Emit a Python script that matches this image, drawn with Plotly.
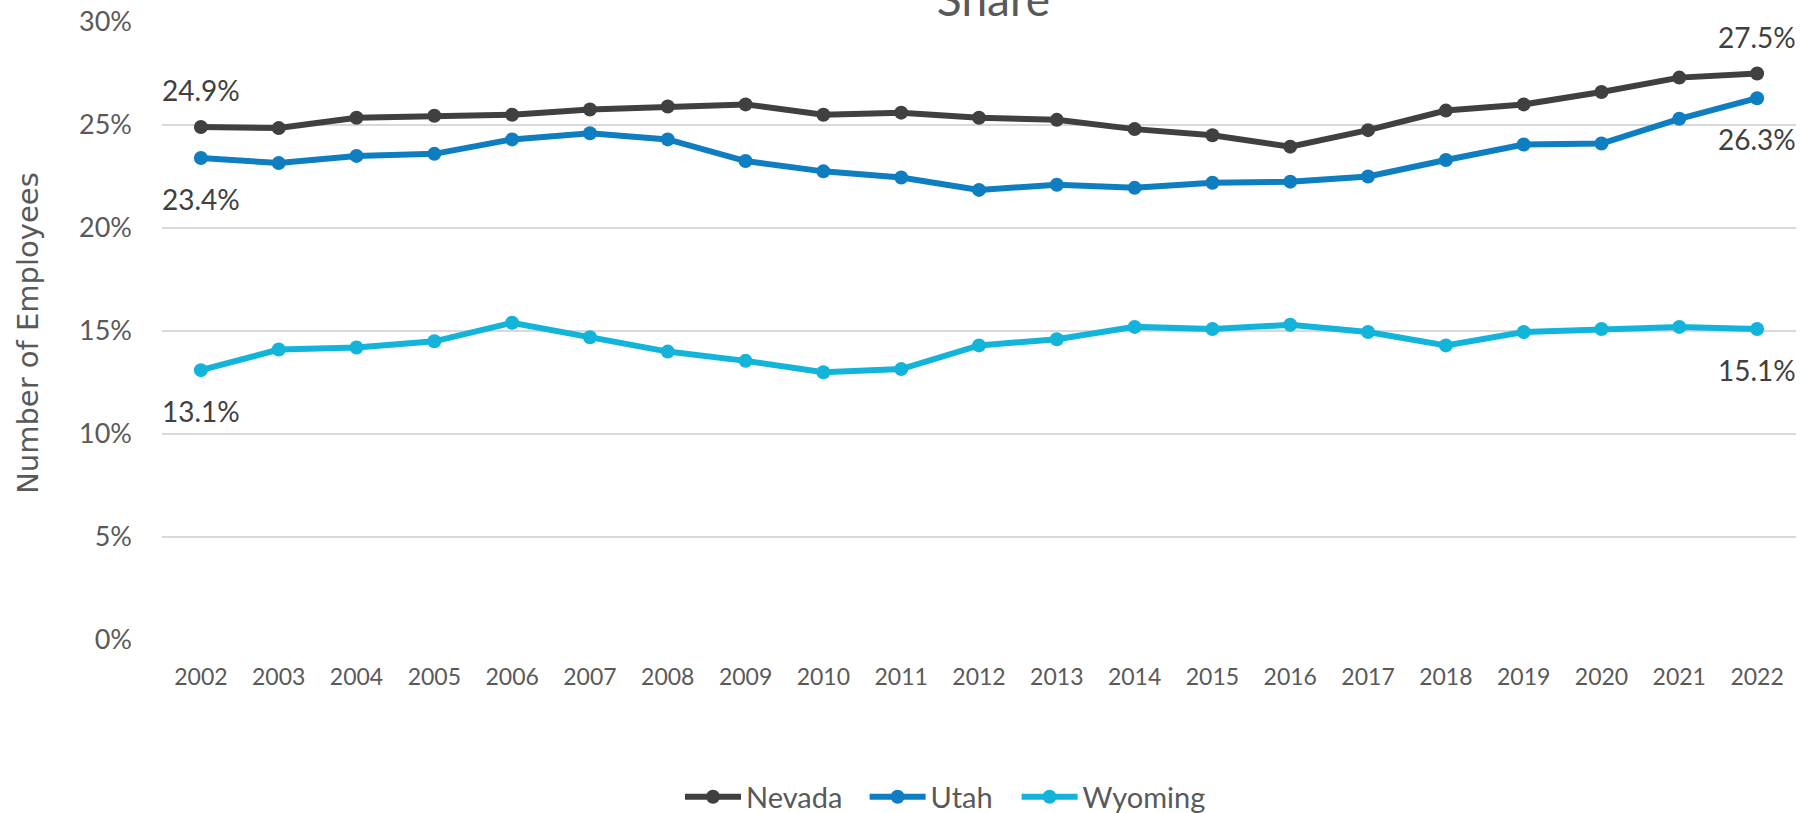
import plotly.graph_objects as go

years = [str(y) for y in range(2002, 2023)]
nevada = [24.9, 24.85, 25.35, 25.45, 25.5, 25.75, 25.9, 26.0, 25.5, 25.6, 25.35,
          25.25, 24.8, 24.5, 23.95, 24.75, 25.7, 26.0, 26.6, 27.3, 27.5]
utah = [23.4, 23.15, 23.5, 23.6, 24.3, 24.6, 24.3, 23.25, 22.75, 22.45, 21.85,
        22.1, 21.95, 22.2, 22.25, 22.5, 23.3, 24.05, 24.1, 25.3, 26.3]
wyoming = [13.1, 14.1, 14.2, 14.5, 15.4, 14.7, 14.0, 13.55, 13.0, 13.15, 14.3,
           14.6, 15.2, 15.1, 15.3, 14.95, 14.3, 14.95, 15.1, 15.2, 15.1]
y_ticks = [0, 5, 10, 15, 20, 25, 30]
y_tick_labels = ["0%", "5%", "10%", "15%", "20%", "25%", "30%"]

series = [
    ("Nevada", nevada, "#404040", 37, "legend", 0.317),
    ("Utah", utah, "#0E7EC1", -41, "legend2", 0.430),
    ("Wyoming", wyoming, "#12B4DA", -41, "legend3", 0.523),
]

FONT = "Lato"
fig = go.Figure()
annotations = []
legends = {}
for name, vals, color, shift, leg, lx in series:
    fig.add_trace(go.Scatter(
        x=years, y=vals, name=name, mode="lines+markers",
        line=dict(color=color, width=6),
        marker=dict(color=color, size=14),
        legend=leg,
    ))
    legends[leg] = dict(orientation="h", x=lx, xanchor="left", y=-0.254, yanchor="middle",
                        font=dict(family=FONT, size=29, color="#595959"), itemwidth=56,
                        bgcolor="rgba(0,0,0,0)")
    for idx in (0, len(vals) - 1):
        annotations.append(dict(
            x=idx, y=vals[idx], xref="x", yref="y",
            text=f"{vals[idx]:.1f}%", showarrow=False, yshift=shift,
            xanchor="center", yanchor="middle",
            font=dict(family=FONT, size=28, color="#404040"),
        ))

annotations.append(dict(
    x=-0.082, y=0.497, xref="paper", yref="paper", text="Number of Employees",
    textangle=-90, showarrow=False, xanchor="center", yanchor="middle",
    font=dict(family="DejaVu Sans", size=29, color="#595959"),
))

fig.update_layout(
    width=1803, height=813,
    margin=dict(l=162, r=7, t=22, b=173, autoexpand=False),
    paper_bgcolor="white", plot_bgcolor="white",
    title=dict(text="Share", x=0.551, xanchor="center", xref="container",
               y=1 - 16 / 813, yanchor="bottom", yref="container",
               font=dict(family=FONT, size=46, color="#595959")),
    showlegend=True,
    annotations=annotations,
    xaxis=dict(type="category", range=[-0.5, 20.5], showgrid=False, showline=False,
               zeroline=False, ticks="", ticklabelstandoff=21, automargin=False,
               tickfont=dict(family=FONT, size=23, color="#595959")),
    yaxis=dict(range=[0, 30], tickvals=y_ticks, ticktext=y_tick_labels,
               showgrid=True, gridcolor="#D9D9D9", gridwidth=2, zeroline=False,
               showline=False, ticks="", ticklabelstandoff=29, automargin=False,
               tickfont=dict(family=FONT, size=27, color="#595959")),
    **legends,
)

fig.write_html(
    "out.html",
    config={"displayModeBar": False},
    post_script="document.body.style.margin='0px';document.body.style.overflow='hidden';",
)
